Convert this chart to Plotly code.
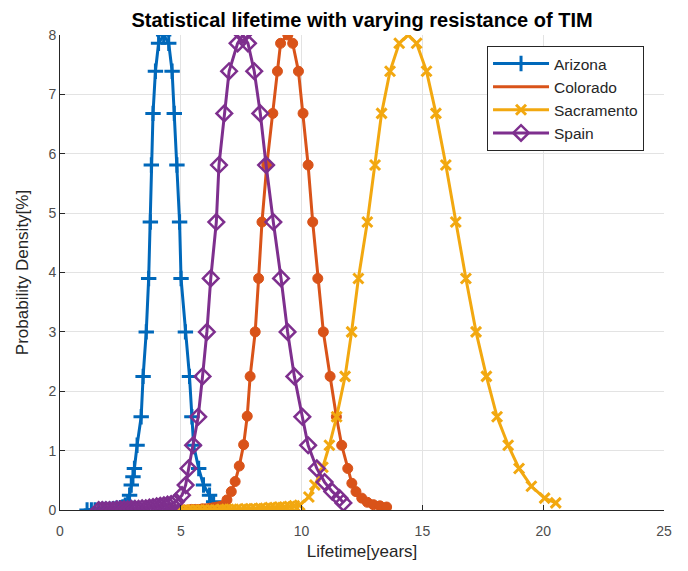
import plotly.graph_objects as go

# ---------------- data ----------------
arizona_x = [1.12, 1.3, 1.45, 1.6, 1.75, 1.9, 2.05, 2.2, 2.35, 2.5, 2.6, 2.7, 2.8, 2.88,
             2.95, 3.02, 3.08, 3.19, 3.36, 3.44, 3.57, 3.67, 3.74, 3.78, 3.85, 3.95, 4.08,
             4.29, 4.50, 4.64, 4.73, 4.84, 4.95, 5.01, 5.19, 5.36, 5.46, 5.53, 5.74, 5.94,
             6.19, 6.36]
arizona_y = [0.0, 0.0, 0.0, 0.0, 0.01, 0.01, 0.01, 0.02, 0.03, 0.04, 0.05, 0.08, 0.13, 0.25,
             0.42, 0.56, 0.70, 1.09, 1.57, 2.25, 3.0, 3.9, 4.85, 5.81, 6.68, 7.39, 7.86,
             8.0, 7.86, 7.39, 6.68, 5.81, 4.85, 3.9, 3.0, 2.25, 1.57, 1.09, 0.70, 0.42,
             0.25, 0.14]

colorado_x = [4.7, 4.85, 5.0, 5.15, 5.3, 5.45, 5.6, 5.75, 5.9, 6.05, 6.2, 6.35, 6.5, 6.63,
              6.77, 6.91, 7.09, 7.25, 7.42, 7.6, 7.75, 7.87, 8.08, 8.22, 8.36, 8.56, 8.81,
              9.0, 9.13, 9.43, 9.63, 9.87, 10.06, 10.27, 10.46, 10.67, 10.90, 11.18, 11.44,
              11.66, 11.91, 12.08, 12.25, 12.49, 12.72, 12.97, 13.24, 13.52]
colorado_y = [0.0, 0.0, 0.0, 0.0, 0.0, 0.01, 0.01, 0.01, 0.02, 0.02, 0.03, 0.04, 0.05, 0.06,
              0.08, 0.17, 0.31, 0.48, 0.74, 1.1, 1.58, 2.25, 3.0, 3.9, 4.85, 5.81, 6.68,
              7.39, 7.86, 8.0, 7.86, 7.39, 6.68, 5.81, 4.85, 3.9, 3.0, 2.25, 1.57,
              1.09, 0.70, 0.45, 0.31, 0.20, 0.13, 0.09, 0.07, 0.05]

sacramento_x = [4.7, 4.9, 5.1, 5.3, 5.5, 5.7, 5.9, 6.1, 6.3, 6.5, 6.7, 6.9, 7.1, 7.3, 7.5,
                7.7, 7.9, 8.1, 8.3, 8.5, 8.7, 8.9, 9.1, 9.3, 9.5, 9.7, 9.92, 10.3, 10.55,
                10.88, 11.15, 11.45, 11.8, 12.07, 12.35, 12.72, 13.04, 13.31, 13.66, 14.04,
                14.41, 14.76, 15.17, 15.56, 15.97, 16.38, 16.80, 17.22, 17.65, 18.09, 18.55,
                19.0, 19.51, 20.06, 20.52]
sacramento_y = [0.0, 0.0, 0.0, 0.0, 0.0, 0.0, 0.0, 0.0, 0.0, 0.0, 0.01, 0.01, 0.01, 0.01, 0.01,
                0.02, 0.02, 0.02, 0.03, 0.03, 0.04, 0.04, 0.05, 0.05, 0.06, 0.07, 0.08, 0.22, 0.42,
                0.72, 1.09, 1.57, 2.25, 3.0, 3.9, 4.85, 5.81, 6.68, 7.39, 7.86,
                8.0, 7.86, 7.39, 6.68, 5.81, 4.85, 3.9, 3.0, 2.25, 1.57, 1.09,
                0.70, 0.40, 0.20, 0.12]

spain_x = [1.6, 1.75, 1.9, 2.05, 2.2, 2.35, 2.5, 2.65, 2.8, 2.95, 3.1, 3.25, 3.4, 3.55, 3.7,
           3.85, 4.0, 4.15, 4.3, 4.45, 4.6, 4.8, 5.05, 5.2, 5.32, 5.51, 5.72, 5.90, 6.08,
           6.24, 6.47, 6.58, 6.80, 7.0, 7.35, 7.57, 7.78, 8.04, 8.29, 8.53, 8.83, 9.15,
           9.42, 9.70, 10.03, 10.27, 10.63, 10.95, 11.27, 11.57, 11.73]
spain_y = [0.0, 0.0, 0.0, 0.0, 0.0, 0.01, 0.01, 0.01, 0.01, 0.02, 0.02, 0.02, 0.03, 0.03, 0.04,
           0.05, 0.06, 0.07, 0.08, 0.09, 0.10, 0.14, 0.25, 0.42, 0.70, 1.09, 1.57, 2.25, 3.0,
           3.9, 4.85, 5.81, 6.68, 7.39, 7.86, 8.0, 7.86, 7.39, 6.68, 5.81, 4.85, 3.9,
           3.0, 2.25, 1.57, 1.09, 0.70, 0.47, 0.31, 0.20, 0.12]

x_ticks = [0, 5, 10, 15, 20, 25]
y_ticks = [0, 1, 2, 3, 4, 5, 6, 7, 8]

# ---------------- styling ----------------
C_AZ = "#0068BA"
C_CO = "#D95319"
C_SA = "#F2A810"
C_SP = "#7E2F8E"
LW = 3

fig = go.Figure()

fig.add_trace(go.Scatter(
    x=arizona_x, y=arizona_y, name="Arizona", mode="lines+markers",
    line=dict(color=C_AZ, width=LW),
    marker=dict(symbol="cross-thin", size=11, color=C_AZ, line=dict(color=C_AZ, width=3))))

fig.add_trace(go.Scatter(
    x=colorado_x, y=colorado_y, name="Colorado", mode="lines+markers",
    showlegend=False, legendgroup="co",
    line=dict(color=C_CO, width=LW),
    marker=dict(symbol="circle", size=10, color=C_CO, line=dict(color=C_CO, width=1))))
fig.add_trace(go.Scatter(
    x=[None], y=[None], name="Colorado", mode="lines", legendgroup="co",
    line=dict(color=C_CO, width=LW)))

fig.add_trace(go.Scatter(
    x=sacramento_x, y=sacramento_y, name="Sacramento", mode="lines+markers",
    line=dict(color=C_SA, width=LW),
    marker=dict(symbol="x-thin", size=10, color=C_SA, line=dict(color=C_SA, width=3))))

fig.add_trace(go.Scatter(
    x=spain_x, y=spain_y, name="Spain", mode="lines+markers",
    line=dict(color=C_SP, width=LW),
    marker=dict(symbol="diamond-open", size=12, color=C_SP, line=dict(color=C_SP, width=2.5))))

FONT = "Liberation Sans, Arial, sans-serif"

# the page adds an 8px body margin, so the figure is sized/margined to compensate
fig.update_layout(
    width=680, height=563,
    margin=dict(l=52, r=24, t=27, b=61),
    paper_bgcolor="white", plot_bgcolor="white",
    font=dict(family=FONT, size=13, color="#262626"),
    title=dict(text="<b>Statistical lifetime with varying resistance of TIM</b>",
               x=0.5, xref="paper", xanchor="center",
               y=0.979, yref="container", yanchor="middle",
               font=dict(family=FONT, size=20, color="#000000")),
    xaxis=dict(range=[0, 25], tickvals=x_ticks, showgrid=True, gridcolor="#e3e3e3",
               gridwidth=1, zeroline=False, showline=True, linecolor="#262626", linewidth=1,
               ticks="inside", ticklen=5, tickcolor="#262626", automargin=False,
               ticklabelstandoff=8,
               tickfont=dict(size=14, color="#4d4d4d"),
               title=dict(text="Lifetime[years]", font=dict(size=17, color="#262626"), standoff=7)),
    yaxis=dict(range=[0, 8], tickvals=y_ticks, showgrid=True, gridcolor="#e3e3e3",
               gridwidth=1, zeroline=False, showline=True, linecolor="#262626", linewidth=1,
               ticks="inside", ticklen=5, tickcolor="#262626", automargin=False,
               tickfont=dict(size=14, color="#4d4d4d"),
               title=dict(text="Probability Density[%]", font=dict(size=17, color="#262626"), standoff=15)),
    legend=dict(x=0.707, y=0.977, xanchor="left", yanchor="top",
                bgcolor="white", bordercolor="#262626", borderwidth=1,
                font=dict(size=15.5, color="#262626"), itemwidth=56,
                tracegroupgap=0),
    showlegend=True,
)

fig.write_html("out.html")
